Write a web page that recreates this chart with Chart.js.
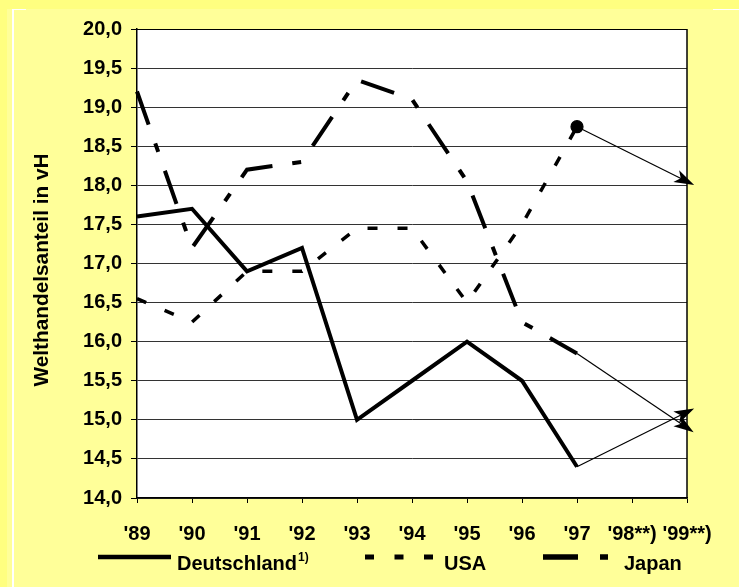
<!DOCTYPE html>
<html><head><meta charset="utf-8">
<script src="https://cdn.jsdelivr.net/npm/chart.js@4/dist/chart.umd.min.js"></script>
<style>
html,body{margin:0;padding:0;background:#FFFF99;width:739px;height:587px;overflow:hidden;}
#wrap{position:relative;width:739px;height:587px;}
.strip{position:absolute;background:#FFFF80;}
.wl{position:absolute;background:#ffffff;}
canvas{position:absolute;left:0;top:0;}
</style></head><body>
<div id="wrap">
<div class="strip" style="left:0;top:0;width:739px;height:9px"></div>
<div class="strip" style="left:0;top:0;width:7px;height:587px"></div>
<div class="wl" style="left:12px;top:9px;width:2px;height:578px"></div>
<div class="wl" style="left:12px;top:9px;width:14px;height:1px"></div>
<div class="wl" style="left:713px;top:9px;width:26px;height:1px"></div>
<canvas id="c" width="739" height="587"></canvas>
</div>
<script>
// ---- data ----
const categories = ["'89", "'90", "'91", "'92", "'93", "'94", "'95", "'96", "'97", "'98**)", "'99**)"];
const deutschland = [17.6, 17.7, 16.9, 17.2, 15.0, 15.5, 16.0, 15.5, 14.4, null, null];
const usa         = [16.55, 16.25, 16.9, 16.9, 17.45, 17.45, 16.5, 17.5, 18.75, null, null];
const japan       = [19.2, 17.2, 18.2, 18.3, 19.35, 19.1, 18.05, 16.25, 15.85, null, null];
const deutschlandForecast = [null, null, null, null, null, null, null, null, 14.4, null, 15.1];
const usaForecast         = [null, null, null, null, null, null, null, null, 18.75, null, 18.05];
const japanForecast       = [null, null, null, null, null, null, null, null, 15.85, null, 14.9];
const seriesNames = ["Deutschland", "USA", "Japan"];
const footnoteMark = "1)";
const yAxisTitle = "Welthandelsanteil in vH";
const yMin = 14, yMax = 20, yStep = 0.5;

// ---- styles ----
const FONT = "'Liberation Sans', Arial, sans-serif";
const dashUSA = [10, 20];
const dashJapan = [35, 20, 9, 20];

const bgPlugin = {
  id: 'plotbg',
  beforeDraw(chart) {
    const {ctx, chartArea: a} = chart;
    ctx.save();
    ctx.fillStyle = '#ffffff';
    ctx.fillRect(a.left, a.top, a.right - a.left, a.bottom - a.top);
    ctx.restore();
  },
  beforeDatasetsDraw(chart) {
    const {ctx, chartArea: a} = chart;
    ctx.save();
    ctx.strokeStyle = '#000';
    ctx.lineWidth = 1.5;
    ctx.beginPath();
    ctx.moveTo(a.right, a.top);
    ctx.lineTo(a.right, a.bottom);
    ctx.stroke();
    ctx.lineWidth = 1;
    ctx.beginPath();
    ctx.moveTo(a.left, a.top + 0.5);
    ctx.lineTo(a.right, a.top + 0.5);
    ctx.stroke();
    ctx.restore();
  }
};

const arrowPlugin = {
  id: 'arrows',
  afterDatasetsDraw(chart) {
    const ctx = chart.ctx;
    chart.data.datasets.forEach((ds, i) => {
      if (!ds.arrow) return;
      const meta = chart.getDatasetMeta(i);
      const idx = [];
      ds.data.forEach((v, k) => { if (v !== null) idx.push(k); });
      const p0 = meta.data[idx[idx.length - 2]], p1 = meta.data[idx[idx.length - 1]];
      const dx = p1.x - p0.x, dy = p1.y - p0.y, L = Math.hypot(dx, dy);
      const ux = dx / L, uy = dy / L, nx = -uy, ny = ux;
      const tx = p1.x + ux * 8, ty = p1.y + uy * 8;
      const len = 20, hw = 6.5, notch = 15;
      ctx.save();
      ctx.fillStyle = '#000';
      ctx.beginPath();
      ctx.moveTo(tx, ty);
      ctx.lineTo(tx - ux * len + nx * hw, ty - uy * len + ny * hw);
      ctx.lineTo(tx - ux * notch, ty - uy * notch);
      ctx.lineTo(tx - ux * len - nx * hw, ty - uy * len - ny * hw);
      ctx.closePath();
      ctx.fill();
      ctx.restore();
    });
  }
};

const textPlugin = {
  id: 'texts',
  afterDraw(chart) {
    const ctx = chart.ctx;
    ctx.save();
    // y axis title
    ctx.translate(42, 270);
    ctx.rotate(-Math.PI / 2);
    ctx.scale(1.04, 1);
    ctx.fillStyle = '#000';
    ctx.font = 'bold 20px ' + FONT;
    ctx.textAlign = 'center';
    ctx.textBaseline = 'middle';
    ctx.fillText(yAxisTitle, 0, 0);
    ctx.restore();

    // legend
    const items = [
      {name: seriesNames[0], x0: 98, x1: 171, tx: 177, dash: [], w: 4.5},
      {name: seriesNames[1], x0: 365, x1: 434, tx: 444, dash: [9, 20.5], w: 5},
      {name: seriesNames[2], x0: 543, x1: 609, tx: 624, dash: [35, 22, 8, 22], w: 5.5}
    ];
    ctx.save();
    items.forEach((it, k) => {
      ctx.strokeStyle = '#000';
      ctx.lineWidth = it.w;
      ctx.setLineDash(it.dash);
      ctx.beginPath();
      ctx.moveTo(it.x0, 557);
      ctx.lineTo(it.x1, 557);
      ctx.stroke();
      ctx.setLineDash([]);
      ctx.fillStyle = '#000';
      ctx.font = 'bold 20px ' + FONT;
      ctx.textAlign = 'left';
      ctx.textBaseline = 'alphabetic';
      ctx.fillText(it.name, it.tx, 570);
      if (k === 0) {
        const w = ctx.measureText(it.name).width;
        ctx.font = 'bold 12px ' + FONT;
        ctx.fillText(footnoteMark, it.tx + w + 1, 561);
      }
    });
    ctx.restore();
  }
};

function lineDs(label, data, extra) {
  return Object.assign({
    label, data,
    borderColor: '#000', backgroundColor: '#000',
    pointRadius: 0, pointHoverRadius: 0, tension: 0, fill: false,
    borderJoinStyle: 'miter', spanGaps: false
  }, extra);
}

new Chart(document.getElementById('c'), {
  type: 'line',
  data: {
    labels: categories,
    datasets: [
      lineDs(seriesNames[0], deutschland, {borderWidth: 4}),
      lineDs(seriesNames[1], usa, {borderWidth: 3.5, borderDash: dashUSA}),
      lineDs(seriesNames[2], japan, {borderWidth: 4, borderDash: dashJapan}),
      lineDs(seriesNames[0] + ' Prognose', deutschlandForecast, {borderWidth: 1.2, spanGaps: true, arrow: true}),
      lineDs(seriesNames[1] + ' Prognose', usaForecast, {borderWidth: 1.2, spanGaps: true, arrow: true,
        pointRadius: (c) => c.dataIndex === 8 ? 6 : 0}),
      lineDs(seriesNames[2] + ' Prognose', japanForecast, {borderWidth: 1.2, spanGaps: true, arrow: true})
    ]
  },
  options: {
    responsive: false,
    animation: false,
    events: [],
    layout: {padding: {top: 29, right: 52, left: 0, bottom: 0}},
    plugins: {legend: {display: false}, tooltip: {enabled: false}, title: {display: false}},
    scales: {
      x: {
        type: 'category',
        offset: false,
        grid: {drawOnChartArea: false, drawTicks: true, tickLength: 5, color: '#000', lineWidth: 1},
        border: {display: true, color: '#000', width: 1.5},
        ticks: {color: '#000', font: {family: FONT, size: 20, weight: 'bold'}, padding: 19,
                autoSkip: false, maxRotation: 0, minRotation: 0},
        afterFit(s) { s.height = 89; }
      },
      y: {
        min: yMin, max: yMax,
        grid: {color: '#333', lineWidth: 1, drawTicks: true, tickLength: 6, tickColor: '#000'},
        border: {display: true, color: '#000', width: 1.5},
        ticks: {stepSize: yStep, color: '#000', font: {family: FONT, size: 20, weight: 'bold'}, padding: 9,
                callback: (v) => Number(v).toFixed(1).replace('.', ',')},
        afterFit(s) { s.width = 137; }
      }
    }
  },
  plugins: [bgPlugin, arrowPlugin, textPlugin]
});
</script>
</body></html>
